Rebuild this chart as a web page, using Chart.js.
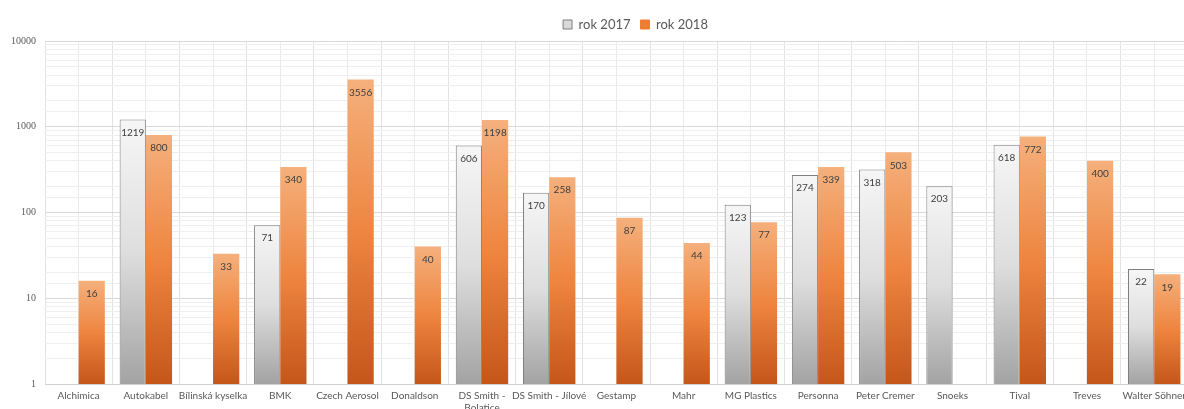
<!DOCTYPE html>
<html>
<head>
<meta charset="utf-8">
<script src="https://cdn.jsdelivr.net/npm/chart.js@4"></script>
<style>
  html, body { margin: 0; padding: 0; background: #fff; overflow: hidden; }
  #wrap { width: 1184px; height: 409px; overflow: hidden; }
</style>
</head>
<body>
<div id="wrap"><canvas id="chart" width="1192" height="420"></canvas></div>
<script>
const categories = [
  "Alchimica", "Autokabel", "Bílinská kyselka", "BMK", "Czech Aerosol", "Donaldson",
  ["DS Smith -", "Bolatice"], "DS Smith - Jílové", "Gestamp", "Mahr", "MG Plastics",
  "Personna", "Peter Cremer", "Snoeks", "Tival", "Treves", "Walter Söhner"
];
const values2017 = [null, 1219, null, 71, null, null, 606, 170, null, null, 123, 274, 318, 203, 618, null, 22];
const values2018 = [16, 800, 33, 340, 3556, 40, 1198, 258, 87, 44, 77, 339, 503, null, 772, 400, 19];
const yTicks = [1, 10, 100, 1000, 10000];

const grayStops = ["#f6f6f6", "#dedede", "#a3a3a3"];
const orangeStops = ["#f5b07c", "#ee8540", "#c4561a"];

// dégradé vertical sur chaque barre, du haut de la barre jusqu'à la base
function barGradient(context, stops) {
  const chart = context.chart;
  const area = chart.chartArea;
  if (!area || context.raw == null) return stops[1];
  const top = chart.scales.y.getPixelForValue(context.raw);
  const g = chart.ctx.createLinearGradient(0, top, 0, area.bottom);
  g.addColorStop(0, stops[0]);
  g.addColorStop(0.5, stops[1]);
  g.addColorStop(1, stops[2]);
  return g;
}

const valueLabels = {
  id: "valueLabels",
  afterDatasetsDraw(chart) {
    const ctx = chart.ctx;
    ctx.save();
    ctx.font = "10px Lato";
    ctx.fillStyle = "#404040";
    ctx.textAlign = "center";
    ctx.textBaseline = "middle";
    chart.data.datasets.forEach((ds, i) => {
      chart.getDatasetMeta(i).data.forEach((el, j) => {
        const v = ds.data[j];
        if (v == null) return;
        ctx.fillText(String(v), el.x, el.y + 13);
      });
    });
    ctx.restore();
  }
};

// décale la légende vers la droite comme sur l'original
const legendShift = {
  id: "legendShift",
  afterLayout(chart) {
    if (chart.legend) {
      chart.legend.left += 40;
      chart.legend.right += 40;
    }
  }
};

const legendFill = ["#d9d9d9", "#ed7d31"];
const legendStroke = ["#7f7f7f", "#ed7d31"];

new Chart(document.getElementById("chart"), {
  type: "bar",
  data: {
    labels: categories,
    datasets: [
      {
        label: "rok 2017",
        data: values2017,
        backgroundColor: c => barGradient(c, grayStops),
        borderColor: "#7f7f7f",
        borderWidth: 1
      },
      {
        label: "rok 2018",
        data: values2018,
        backgroundColor: c => barGradient(c, orangeStops),
        borderColor: "rgba(0,0,0,0)",
        borderWidth: 0
      }
    ]
  },
  options: {
    responsive: false,
    animation: false,
    devicePixelRatio: 1,
    layout: { padding: { left: 2, right: 3, top: 8, bottom: 0 } },
    datasets: { bar: { categoryPercentage: 0.78, barPercentage: 1.0 } },
    plugins: {
      tooltip: { enabled: false },
      legend: {
        position: "top",
        labels: {
          boxWidth: 9,
          boxHeight: 9,
          padding: 10,
          color: "#595959",
          font: { family: "Lato", size: 13 },
          generateLabels: chart =>
            Chart.defaults.plugins.legend.labels.generateLabels(chart).map((l, i) =>
              Object.assign(l, { fillStyle: legendFill[i], strokeStyle: legendStroke[i], lineWidth: 1 }))
        }
      }
    },
    scales: {
      x: {
        type: "category",
        offset: true,
        grid: { offset: true, color: "#e2e2e2", drawTicks: false },
        border: { color: "#d0d0d0" },
        ticks: {
          padding: 6,
          color: "#595959",
          font: { family: "Lato", size: 10 },
          maxRotation: 0,
          autoSkip: false
        }
      },
      x2: {
        type: "category",
        position: "top",
        offset: true,
        labels: categories,
        grid: { offset: false, color: "#ebebeb", drawTicks: false },
        border: { display: false },
        ticks: { display: false }
      },
      y: {
        type: "logarithmic",
        min: 1,
        max: 10000,
        grid: {
          drawTicks: false,
          color: c => yTicks.includes(c.tick.value) ? "#d9d9d9" : "#efefef"
        },
        border: { display: false },
        ticks: {
          padding: 9,
          autoSkip: false,
          color: "#595959",
          font: { family: "Liberation Serif", size: 10 },
          callback: v => yTicks.includes(v) ? String(v) : ""
        }
      }
    }
  },
  plugins: [valueLabels, legendShift]
});
</script>
</body>
</html>
